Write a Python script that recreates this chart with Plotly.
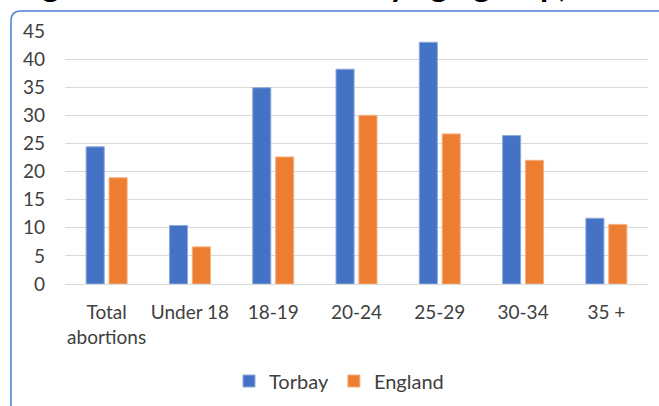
import plotly.graph_objects as go

categories = ["Total<br>abortions", "Under 18", "18-19", "20-24", "25-29", "30-34", "35 +"]
torbay = [24.4, 10.4, 34.9, 38.2, 43.0, 26.4, 11.7]
england = [18.9, 6.6, 22.6, 30.0, 26.7, 22.0, 10.6]
y_ticks = list(range(0, 50, 5))
title_text = "Figure 6: Abortion rates by age group, 2021"

# figure size and margins in pixels
W, H = 659, 406
L, R, T, B = 65, 11, 31, 122


def to_paper(x, y):
    # pixel position -> paper coordinates
    return (x - L) / (W - L - R), (H - B - y) / (H - T - B)


fig = go.Figure()
fig.add_trace(
    go.Bar(
        x=categories,
        y=torbay,
        name="Torbay",
        marker={"color": "#4472C4", "line": {"color": "#8FAADC", "width": 1}},
    )
)
fig.add_trace(
    go.Bar(
        x=categories,
        y=england,
        name="England",
        marker={"color": "#ED7D31", "line": {"color": "#F4B183", "width": 1}},
    )
)

# rounded chart border (runs off the right and bottom edges)
pts = [(11, 420), (11, 21), (11, 11), (21, 11), (680, 11)]
pp = [to_paper(*p) for p in pts]
path = (f"M{pp[0][0]},{pp[0][1]} L{pp[1][0]},{pp[1][1]} "
        f"Q{pp[2][0]},{pp[2][1]} {pp[3][0]},{pp[3][1]} L{pp[4][0]},{pp[4][1]}")
fig.add_shape(type="path", path=path, xref="paper", yref="paper",
              line={"color": "#4F7FD0", "width": 1.5})

# title, mostly cut off at the top of the picture
tx, ty = to_paper(14, 5)
fig.add_annotation(
    text=f"<b>{title_text}</b>", xref="paper", yref="paper", x=tx, y=ty,
    xanchor="left", yanchor="bottom", showarrow=False, borderpad=0,
    font={"family": "Lato", "size": 33, "color": "black"},
)

lx, ly = to_paper(339, 381)
fig.update_layout(
    width=W,
    height=H,
    margin={"l": L, "r": R, "t": T, "b": B, "autoexpand": False},
    paper_bgcolor="white",
    plot_bgcolor="white",
    barmode="group",
    bargap=0.45,
    bargroupgap=0.21,
    font={"family": "Lato", "size": 19, "color": "#404040"},
    showlegend=True,
    legend={
        "orientation": "h",
        "x": lx,
        "xanchor": "center",
        "y": ly,
        "yanchor": "middle",
        "itemwidth": 30,
        "font": {"size": 20},
    },
)
fig.update_xaxes(showline=True, linecolor="#D9D9D9", linewidth=1, ticks="",
                 showgrid=False, tickfont={"size": 19}, automargin=False,
                 ticklabelstandoff=11)
fig.update_yaxes(range=[0, 45], tickvals=y_ticks, showgrid=True, gridcolor="#D9D9D9",
                 gridwidth=1, zeroline=False, showline=False, ticks="",
                 ticklabelstandoff=19, tickfont={"size": 19}, automargin=False)
# drop the page's default body margin so the figure sits at the window corner
fig.write_html("out.html", config={"displayModeBar": False},
               post_script="document.body.style.margin = '0px';")
